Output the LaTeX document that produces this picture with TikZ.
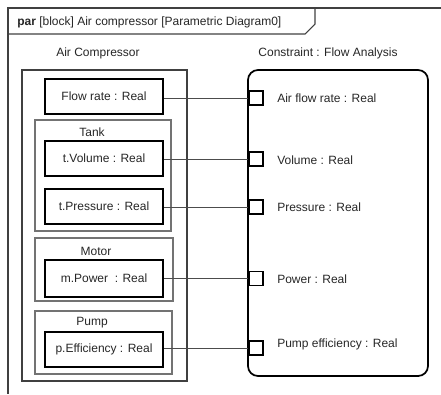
\documentclass[tikz,border=0pt]{standalone}
\usepackage{fontspec}
\setmainfont{Liberation Sans}
\begin{document}
\begin{tikzpicture}[x=0.75pt,y=-0.75pt,
  every node/.style={font=\fontsize{9}{11}\selectfont, text=black!85},
  valbox/.style={draw=black, line width=1.5pt, minimum width=118*0.75pt, minimum height=35*0.75pt, inner sep=0pt},
  partbox/.style={draw=black!55, line width=1pt},
  outerbox/.style={draw=black!75, line width=0.8pt},
  portbox/.style={draw=black, line width=1.3pt, minimum size=14*0.75pt, inner sep=0pt},
  conn/.style={draw=black!70, line width=0.7pt},
  lbl/.style={anchor=west, inner sep=0pt}]
\useasboundingbox (0,0) rectangle (441,394);
% frame
\draw[black!75, line width=0.8pt] (441,8) -- (8,8) -- (8,394);
\draw[black!75, line width=0.8pt] (8,34) -- (305,34) -- (315,24) -- (315,8);
\node[anchor=west, inner sep=0pt] (title) at (17,22) {\textbf{par} [block] Air compressor [Parametric Diagram0]};
% headings
\node (achead) at (98,53) {Air Compressor};
\node (cfhead) at (328,53) {Constraint : Flow Analysis};
% air compressor block
\draw[outerbox] (22,70) rectangle (187,381);
\node[coordinate] (acbox) at (104.5,225) {};
% tank
\draw[partbox] (35,120) rectangle (171,231);
\node (tank) at (92,132) {Tank};
% motor
\draw[partbox] (35,238) rectangle (173,301);
\node (motor) at (96,251) {Motor};
% pump
\draw[partbox] (35,311) rectangle (172,374);
\node (pump) at (92,323) {Pump};
% value boxes
\node[valbox] (flow) at (104,96.5) {Flow rate : Real};
\node[valbox] (vol) at (104,158.5) {t.Volume : Real};
\node[valbox] (pres) at (104,206.5) {t.Pressure : Real};
\node[valbox, minimum height=37*0.75pt] (pow) at (104,278.5) {m.Power\ \ : Real};
\node[valbox] (eff) at (104,349.5) {p.Efficiency : Real};
% constraint block
\draw[black, line width=1.3pt, rounded corners=7.5pt] (248,70) rectangle (428,376);
% ports
\node[portbox] (pa) at (256,98) {};
\node[portbox] (pv) at (256,159) {};
\node[portbox] (pp) at (256,207) {};
\node[portbox] (pw) at (256,278.5) {};
\node[portbox] (pe) at (256,348) {};
% port labels
\node[lbl] (la) at (277,98) {Air flow rate : Real};
\node[lbl] (lv) at (277,160) {Volume : Real};
\node[lbl] (lp) at (277,207) {Pressure : Real};
\node[lbl] (lw) at (277,279) {Power : Real};
\node[lbl] (le) at (277,344) {Pump efficiency : Real};
% connectors
\draw[conn] (flow.east |- pa.west) -- (pa.west);
\draw[conn] (vol.east |- pv.west) -- (pv.west);
\draw[conn] (pres.east |- pp.west) -- (pp.west);
\draw[conn] (pow.east |- pw.west) -- (pw.west);
\draw[conn] (eff.east |- pe.west) -- (pe.west);
\end{tikzpicture}
\end{document}
